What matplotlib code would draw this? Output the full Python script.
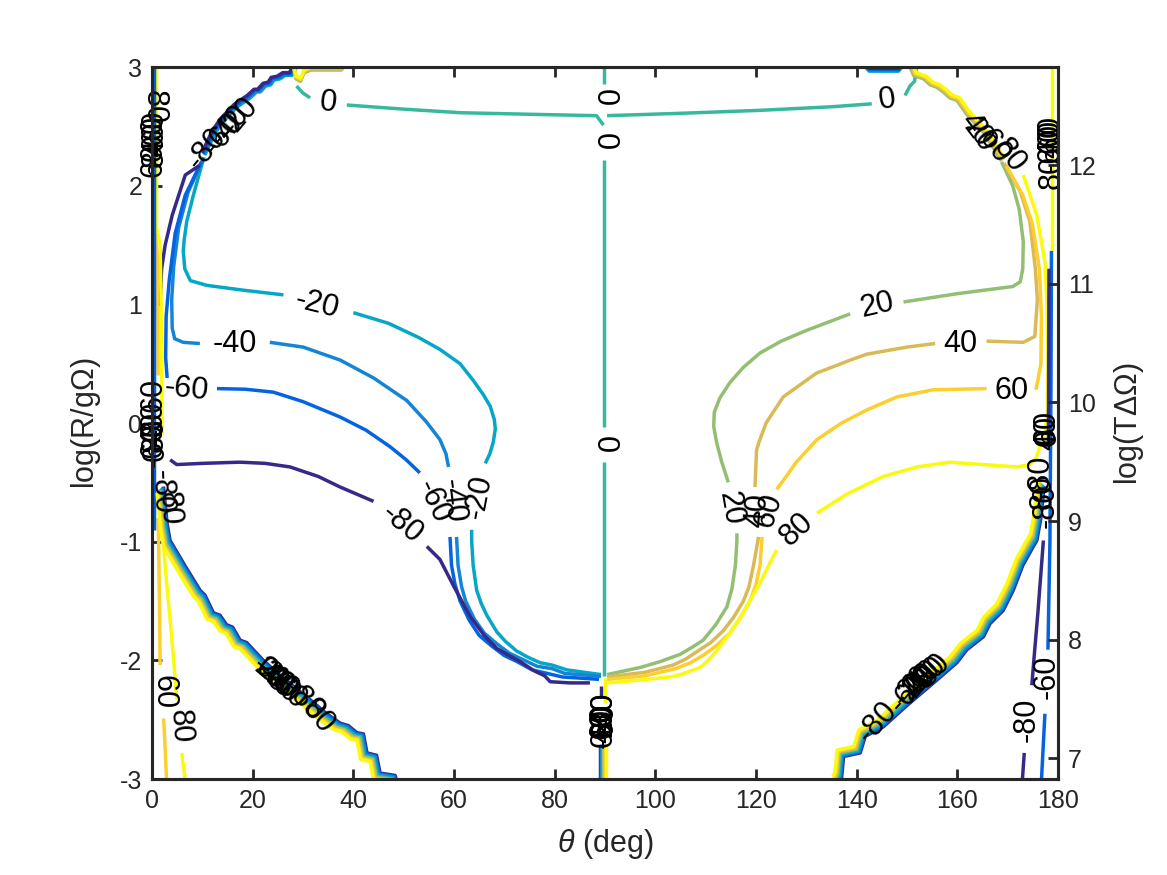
import matplotlib
matplotlib.use("Agg")
import matplotlib.pyplot as plt
from matplotlib.transforms import offset_copy

plt.rcParams["font.family"] = ["Liberation Sans", "DejaVu Sans"]
plt.rcParams["mathtext.fontset"] = "custom"
plt.rcParams["mathtext.it"] = "Liberation Sans:italic"
plt.rcParams["mathtext.rm"] = "Liberation Sans"
plt.rcParams["axes.unicode_minus"] = False

# contour levels and their parula colours
levels = [-80, -60, -40, -20, 0, 20, 40, 60, 80]
level_rgb = [(0.2081, 0.1663, 0.5292), (0.0117, 0.3875, 0.8820), (0.0793, 0.5200, 0.8312),
             (0.0228, 0.6535, 0.7768), (0.2178, 0.7250, 0.6193), (0.5709, 0.7485, 0.4494),
             (0.8507, 0.7299, 0.3360), (0.9880, 0.8066, 0.1794), (0.9763, 0.9831, 0.0538)]
color = dict(zip(levels, level_rgb))

# ---- contour pieces: (theta deg, log R) ----
zero_l1 = [(28.7, 2.84), (30.0, 2.78), (31.4, 2.74)]
zero_l2 = [(38.7, 2.68), (50.0, 2.645), (61.2, 2.615), (77.0, 2.60), (88.3, 2.59), (89.7, 2.51)]
zero_v1 = [(89.7, 3.02), (89.7, 2.86)]
zero_v2 = [(89.7, 2.22), (89.7, -0.03)]
zero_v3 = [(89.7, -0.33), (89.7, -2.13)]
zero_r1 = [(90.4, 2.59), (105.0, 2.61), (120.8, 2.635), (135.0, 2.665), (143.0, 2.69)]
zero_r2 = [(149.6, 2.76), (150.6, 2.84), (151.5, 2.88), (152.0, 3.02)]

m20_a = [(10.3, 2.24), (8.2, 1.92), (6.9, 1.70), (6.4, 1.55), (6.2, 1.45), (6.5, 1.30), (7.6, 1.20),
         (10.9, 1.16), (18.0, 1.12), (26.1, 1.08)]
m20_b = [(40.0, 0.93), (47.0, 0.84), (53.0, 0.72), (57.2, 0.62), (61.2, 0.50), (63.8, 0.36),
         (65.8, 0.24), (67.2, 0.14), (68.0, 0.03), (68.2, -0.05), (67.8, -0.16), (67.1, -0.26),
         (66.2, -0.34)]
m20_c = [(63.5, -0.90), (63.5, -0.99), (63.8, -1.20), (64.5, -1.41), (65.4, -1.52), (66.5, -1.62),
         (68.5, -1.76), (70.2, -1.84), (72.4, -1.92), (74.5, -1.97), (77.1, -2.02), (79.5, -2.04),
         (82.4, -2.08), (89.2, -2.12)]

m40_a = [(10.1, 2.22), (7.2, 1.95), (5.3, 1.65), (4.3, 1.32), (3.9, 1.04), (4.0, 0.80), (4.5, 0.71),
         (6.2, 0.68), (9.5, 0.67)]
m40_b = [(23.4, 0.68), (30.0, 0.64), (37.4, 0.53), (44.0, 0.38), (50.6, 0.19), (54.5, 0.01),
         (57.2, -0.14), (58.4, -0.26), (58.9, -0.37)]
m40_c = [(60.5, -0.96), (60.8, -1.20), (61.5, -1.38), (62.3, -1.50), (64.0, -1.65), (66.0, -1.77),
         (68.5, -1.86), (71.0, -1.94), (73.5, -1.99), (76.5, -2.05), (79.5, -2.07), (82.0, -2.11),
         (89.2, -2.135)]

m60_a = [(9.8, 2.20), (6.6, 1.92), (4.6, 1.60), (3.4, 1.20), (2.8, 0.90), (2.7, 0.55), (3.0, 0.38)]
m60_b = [(12.9, 0.29), (18.5, 0.285), (24.1, 0.26), (30.0, 0.18), (37.4, 0.05), (42.5, -0.06),
         (47.3, -0.20), (50.5, -0.31), (53.2, -0.42)]
m60_c = [(59.2, -0.96), (59.5, -1.20), (60.2, -1.36), (61.2, -1.50), (63.0, -1.66), (65.0, -1.79),
         (67.5, -1.88), (70.0, -1.96), (72.5, -2.01), (75.5, -2.08), (78.5, -2.11), (81.5, -2.14),
         (88.8, -2.16)]

m80_a = [(9.4, 2.17), (6.6, 2.09), (4.0, 1.75), (2.6, 1.50), (1.9, 1.30), (1.6, 1.00)]
m80_b = [(3.6, -0.31), (4.9, -0.35), (10.0, -0.34), (17.5, -0.33), (22.5, -0.34), (27.4, -0.37),
         (33.0, -0.45), (37.4, -0.54), (44.0, -0.66)]
m80_c = [(54.6, -1.04), (57.2, -1.15), (60.0, -1.38), (63.2, -1.63), (66.0, -1.79), (68.5, -1.90),
         (71.0, -1.96), (73.1, -2.01), (76.0, -2.09), (78.0, -2.13), (79.1, -2.18), (83.0, -2.19),
         (87.0, -2.19)]

p20_a = [(168.8, 2.20), (171.0, 2.00), (172.3, 1.80), (173.1, 1.53), (173.0, 1.30), (172.5, 1.19),
         (171.0, 1.15), (169.1, 1.14), (160.0, 1.09), (149.3, 1.02)]
p20_b = [(138.7, 0.92), (130.0, 0.78), (125.0, 0.69), (120.8, 0.59), (117.5, 0.47), (114.8, 0.34),
         (112.8, 0.21), (111.7, 0.09), (111.6, -0.03), (112.2, -0.17), (113.2, -0.33), (114.5, -0.50)]
p20_c = [(116.2, -0.93), (116.2, -0.99), (115.9, -1.20), (115.2, -1.40), (114.2, -1.55),
         (112.0, -1.70), (109.5, -1.83), (107.3, -1.89), (104.9, -1.95), (101.0, -2.01),
         (97.0, -2.06), (90.4, -2.12)]

p40_a = [(169.3, 2.19), (172.5, 1.95), (174.4, 1.70), (175.5, 1.30), (175.9, 1.04), (175.4, 0.73),
         (173.1, 0.68), (165.8, 0.69)]
p40_b = [(155.6, 0.67), (150.0, 0.64), (142.0, 0.58), (138.7, 0.53), (132.0, 0.42), (125.4, 0.22),
         (122.0, 0.00), (120.6, -0.16), (120.1, -0.23), (119.8, -0.54)]
p40_c = [(120.5, -0.96), (119.5, -1.20), (118.6, -1.38), (117.5, -1.50), (115.5, -1.64),
         (113.5, -1.75), (111.0, -1.85), (108.5, -1.92), (106.0, -1.99), (103.5, -2.04),
         (98.0, -2.10), (90.4, -2.14)]

p60_a = [(169.7, 2.17), (173.0, 1.92), (174.9, 1.68), (176.3, 1.30), (176.7, 0.90), (176.6, 0.50),
         (176.0, 0.36), (175.6, 0.28)]
p60_b = [(165.8, 0.29), (155.2, 0.28), (148.0, 0.22), (142.0, 0.11), (137.0, 0.00), (132.1, -0.14),
         (128.0, -0.33), (126.0, -0.45), (124.1, -0.56)]
p60_c = [(121.2, -0.96), (120.8, -1.20), (120.0, -1.36), (118.8, -1.50), (116.8, -1.65),
         (114.8, -1.77), (112.3, -1.87), (109.8, -1.95), (107.0, -2.02), (104.0, -2.07),
         (98.0, -2.13), (90.4, -2.16)]

p80_a = [(173.1, 2.09), (175.8, 1.75), (177.4, 1.36), (177.8, 1.00), (178.0, 0.50), (177.9, 0.10),
         (177.3, -0.12), (176.4, -0.20), (175.6, -0.30), (174.4, -0.35), (171.8, -0.37),
         (165.0, -0.35), (158.5, -0.33), (152.0, -0.37), (145.3, -0.45), (138.0, -0.60),
         (132.1, -0.76)]
p80_b = [(124.1, -1.07), (122.5, -1.20), (120.8, -1.35), (119.0, -1.48), (117.5, -1.60),
         (114.8, -1.77), (112.0, -1.93), (110.5, -2.00), (108.9, -2.06), (105.0, -2.12),
         (102.9, -2.14), (96.0, -2.17), (90.4, -2.19)]

# edge pieces
le_80a = [(0.9, 3.02), (0.9, 1.65), (1.6, 1.50), (1.8, 1.00), (1.9, 0.40), (2.0, -0.10)]
le_80b = [(2.0, -0.75), (2.2, -0.99), (3.0, -1.40), (3.6, -1.66), (4.3, -2.00), (4.9, -2.33)]
le_80c = [(5.9, -2.78), (6.6, -3.02)]
le_60a = [(0.6, 1.60), (1.1, 1.40), (1.2, 0.40)]
le_60b = [(1.2, -0.80), (1.3, -0.99), (1.5, -1.60), (1.6, -2.04)]
le_60c = [(2.3, -2.49), (2.6, -2.75), (2.9, -3.02)]
le_m60 = [(0.45, 3.02), (0.45, -0.90)]

re_80 = [(178.9, 3.02), (178.9, 1.45)]
re_m60a = [(178.7, 1.45), (178.6, 0.30), (178.4, -0.99), (178.0, -1.91)]
re_m60b = [(177.4, -2.45), (176.7, -3.02)]
re_m80a = [(178.2, 1.30), (178.1, -0.20)]
re_m80b = [(177.1, -0.99), (176.0, -1.60), (175.2, -2.00), (174.8, -2.21)]
re_m80c = [(173.3, -2.78), (172.9, -3.02)]

# shared bands where all (or several) levels run side by side
tl_band = [(10.6, 2.27), (12.5, 2.44), (14.1, 2.54), (16.8, 2.66), (19.5, 2.74), (20.8, 2.79),
           (21.5, 2.79), (22.6, 2.84), (23.6, 2.85), (24.2, 2.89), (25.4, 2.90), (26.5, 2.93),
           (27.8, 2.93), (28.5, 2.98), (28.8, 3.02)]
tl_top = [(28.0, 3.02), (28.6, 2.90), (29.5, 2.88), (30.2, 2.95), (31.5, 2.975), (37.6, 2.975),
          (38.4, 3.02)]
tr_band = [(150.4, 3.02), (151.3, 2.93), (153.3, 2.90), (154.6, 2.85), (155.9, 2.83), (157.2, 2.79),
           (158.5, 2.74), (159.9, 2.72), (161.9, 2.60), (165.2, 2.45), (167.0, 2.33), (168.6, 2.22)]
tr_top = [(141.3, 3.02), (142.5, 2.965), (148.3, 2.965), (149.4, 3.02)]
bl_band = [(2.3, -0.55), (3.0, -0.85), (3.58, -0.99), (6.5, -1.20), (9.54, -1.41), (10.5, -1.45),
           (12.2, -1.60), (13.5, -1.62), (14.8, -1.70), (16.0, -1.72), (17.5, -1.83), (18.8, -1.85),
           (20.1, -1.91), (22.1, -2.00), (26.0, -2.15), (30.5, -2.30), (34.7, -2.45), (37.4, -2.53),
           (39.0, -2.55), (40.7, -2.61), (42.0, -2.62), (42.7, -2.78), (44.6, -2.80), (45.3, -2.95),
           (48.3, -2.97), (48.6, -3.02)]
br_band = [(136.7, -3.02), (137.0, -2.99), (137.4, -2.81), (140.7, -2.78), (141.7, -2.64),
           (145.3, -2.56), (150.0, -2.38), (155.0, -2.20), (159.9, -2.02), (161.9, -1.91),
           (165.2, -1.80), (166.5, -1.69), (169.1, -1.58), (171.1, -1.41), (173.0, -1.20),
           (175.1, -1.04), (175.8, -0.99), (176.6, -0.80), (177.2, -0.55)]
bc_stem = [(89.0, -2.72), (89.0, -3.02)]
bc_stub80 = [(89.9, -2.15), (89.9, -2.36)]
bc_stub_m80 = [(89.2, -2.22), (89.2, -2.32)]

single = [(0, zero_l1), (0, zero_l2), (0, zero_v1), (0, zero_v2), (0, zero_v3), (0, zero_r1), (0, zero_r2),
          (-20, m20_a), (-20, m20_b), (-20, m20_c), (-40, m40_a), (-40, m40_b), (-40, m40_c),
          (-60, m60_a), (-60, m60_b), (-60, m60_c), (-80, m80_a), (-80, m80_b), (-80, m80_c),
          (20, p20_a), (20, p20_b), (20, p20_c), (40, p40_a), (40, p40_b), (40, p40_c),
          (60, p60_a), (60, p60_b), (60, p60_c), (80, p80_a), (80, p80_b),
          (80, le_80a), (80, le_80b), (80, le_80c), (60, le_60a), (60, le_60b), (60, le_60c),
          (-60, le_m60), (80, re_80), (-60, re_m60a), (-60, re_m60b), (-80, re_m80a),
          (-80, re_m80b), (-80, re_m80c), (80, bc_stub80), (-80, bc_stub_m80)]

# band, levels (first drawn at the read path), pixel step per level
stacks = [(tl_band, [-20, -40, -60, -80], (-0.9, 0.9)),
          (tl_top, [20, 40, 60, 80], (0.0, 1.0)),
          (tr_band, [20, 40, 60, 80], (0.9, 0.9)),
          (tr_top, [-20, -40, -60, -80], (0.0, 1.0)),
          (bl_band, levels, (-0.8, -0.8)),
          (br_band, levels, (-0.8, 0.8)),
          (bc_stem, levels, (0.7, 0.0))]

# contour labels: text, theta, logR, rotation
clabels = [("0", 35.0, 2.70, -6), ("0", 146.0, 2.72, 8), ("0", 89.7, 2.74, -90), ("0", 89.7, 2.37, -90),
           ("0", 89.7, -0.18, -90),
           ("-20", 32.7, 1.00, -14), ("-40", 16.5, 0.67, 0), ("-60", 6.9, 0.28, -6),
           ("-80", 49.6, -0.85, -40), ("-60", 55.9, -0.66, -65), ("-40", 59.7, -0.66, -83),
           ("-20", 65.0, -0.62, 79),
           ("20", 144.0, 0.99, 13), ("40", 160.5, 0.67, 0), ("60", 170.8, 0.27, 0),
           ("80", 128.1, -0.90, 43), ("60", 122.6, -0.74, 73), ("40", 120.2, -0.74, 86),
           ("20", 114.8, -0.72, -80),
           ("-80", 10.9, 2.31, 50), ("-60", 14.2, 2.44, 50), ("-40", 15.4, 2.50, 50), ("-20", 17.3, 2.57, 50),
           ("40", 163.6, 2.47, -53), ("20", 164.4, 2.42, -53), ("60", 167.4, 2.33, -53),
           ("80", 170.3, 2.25, -53),
           ("80", 0.4, 2.66, -90), ("-60", 0.5, 2.45, 90), ("0", 0.3, 2.52, 90), ("60", 0.3, 2.22, 90),
           ("-40", 0.6, 2.36, 90), ("80", 0.5, 2.30, 90),
           ("60", 0.3, 0.24, 90), ("-80", 0.4, 0.00, 90), ("80", 0.5, -0.10, 90), ("-60", 0.4, -0.18, 90),
           ("0", 0.8, -0.25, 90), ("40", 0.4, -0.05, 90),
           ("-80", 1.9, -0.58, -88), ("80", 3.4, -0.72, -86),
           ("60", 2.2, -2.27, -90), ("80", 5.6, -2.56, -86),
           ("0", 22.5, -2.08, -40), ("20", 23.5, -2.12, -40), ("-20", 24.0, -2.13, -40),
           ("40", 24.5, -2.16, -40), ("-40", 25.0, -2.17, -40), ("60", 25.3, -2.20, -40),
           ("80", 26.0, -2.23, -40), ("-60", 26.5, -2.25, -40), ("-80", 30.2, -2.34, -45),
           ("80", 33.0, -2.48, -50),
           ("-80", 144.2, -2.52, 48), ("-60", 150.5, -2.27, 48), ("0", 151.5, -2.20, 48),
           ("-20", 151.0, -2.22, 48), ("20", 152.5, -2.17, 48), ("-40", 152.0, -2.19, 48),
           ("40", 153.5, -2.14, 48), ("60", 154.5, -2.11, 48), ("80", 155.3, -2.08, 48),
           ("-80", 173.8, -2.50, 90), ("-60", 177.8, -2.14, 90),
           ("60", 177.8, -0.03, 90), ("40", 177.9, -0.08, 90), ("0", 177.9, -0.12, 90),
           ("-80", 176.6, -0.45, 90), ("80", 177.0, -0.58, 90), ("-80", 177.6, -0.70, 90),
           ("0", 178.6, 2.52, 90), ("60", 178.5, 2.42, 90), ("40", 178.6, 2.38, 90),
           ("-60", 178.6, 2.30, 90), ("80", 178.7, 2.12, 90),
           ("-80", 89.7, -2.45, 90), ("80", 89.7, -2.50, 90), ("-60", 89.6, -2.55, 90),
           ("60", 89.8, -2.50, 90), ("0", 89.7, -2.66, 90), ("-40", 89.8, -2.45, 90),
           ("40", 89.6, -2.55, 90), ("20", 89.7, -2.50, 90)]

x_ticks = [0, 20, 40, 60, 80, 100, 120, 140, 160, 180]
y_ticks = [-3, -2, -1, 0, 1, 2, 3]
right_ticks = [7, 8, 9, 10, 11, 12]
right_offset = 9.826  # log(T dOmega) = log(R/g Omega) + offset

LW = 2.5
AX = "#262626"

fig = plt.figure(figsize=(11.67, 8.75), dpi=100)
ax = fig.add_axes([0.1303, 0.1097, 0.7763, 0.8137])

for lev, pts in single:
    xs, ys = zip(*pts)
    ax.plot(xs, ys, color=color[lev], lw=LW, solid_joinstyle="round", solid_capstyle="butt")

for pts, lvls, (dx, dy) in stacks:
    xs, ys = zip(*pts)
    for k, lev in enumerate(lvls):
        tr = offset_copy(ax.transData, fig=fig, x=dx * k, y=dy * k, units="dots")
        ax.plot(xs, ys, color=color[lev], lw=LW, transform=tr, solid_joinstyle="round")

for txt, x, y, rot in clabels:
    ax.text(x, y, txt, rotation=rot, rotation_mode="anchor", ha="center", va="center",
            fontsize=22, color="black", zorder=5, clip_on=False)

ax.set_xlim(0, 180)
ax.set_ylim(-3, 3)
ax.set_xticks(x_ticks)
ax.set_yticks(y_ticks)
ax.tick_params(direction="in", length=7, width=2, color=AX, labelcolor=AX, labelsize=18,
               top=True, right=False, pad=7)
ax.set_xlabel(r"$\mathit{\theta}$ (deg)", fontsize=22, color=AX, labelpad=10)
ax.set_ylabel(r"log(R/g$\Omega$)", fontsize=22, color=AX, labelpad=12)

ax2 = ax.twinx()
ax2.set_ylim(-3 + right_offset, 3 + right_offset)
ax2.set_yticks(right_ticks)
ax2.tick_params(direction="in", length=7, width=2, color=AX, labelcolor=AX, labelsize=18, pad=7)
ax2.set_ylabel(r"log(T$\Delta\Omega$)", fontsize=22, color=AX, labelpad=12)
for a in (ax, ax2):
    for s in a.spines.values():
        s.set_color(AX)
        s.set_linewidth(2.2)

fig.savefig("out.png", dpi=100)
